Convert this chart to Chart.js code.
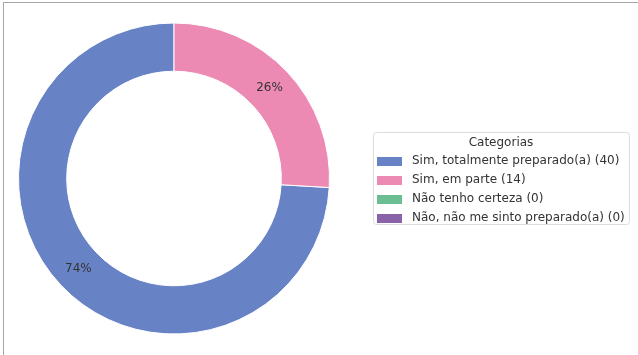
<!DOCTYPE html>
<html>
<head>
<meta charset="utf-8">
<script src="https://cdn.jsdelivr.net/npm/chart.js@4"></script>
<style>
  html, body { margin: 0; padding: 0; background: #fff; }
  #wrap { position: relative; width: 638px; height: 355px; }
  #frame { position: absolute; left: 3px; top: 2px; right: 0; bottom: 0;
           border-top: 1px solid #a8a8a8; border-left: 1px solid #a8a8a8; }
  canvas { position: absolute; left: 0; top: 0; }
</style>
</head>
<body>
<div id="wrap">
  <div id="frame"></div>
  <canvas id="myChart" width="638" height="355"></canvas>
</div>
<script>
// Respostas por categoria
const categories = ['Sim, totalmente preparado(a)', 'Sim, em parte', 'Não tenho certeza', 'Não, não me sinto preparado(a)'];
const counts = [40, 14, 0, 0];
const colors = ['#6882c6', '#ec8ab4', '#6abe91', '#8962aa'];
const legendTitle = 'Categorias';

const total = counts.reduce((a, b) => a + b, 0);
// first slice ends just past 3 o'clock, the rest fill the top-right
const startDeg = (total - counts[0]) / total * 360;

const FONT = '"DejaVu Sans", sans-serif';

// percentage text in the middle of each ring slice
const pctLabels = {
    id: 'pctLabels',
    afterDatasetsDraw(chart) {
        const c = chart.ctx;
        const meta = chart.getDatasetMeta(0);
        c.save();
        c.font = '12px ' + FONT;
        c.fillStyle = '#333';
        c.textAlign = 'center';
        c.textBaseline = 'middle';
        meta.data.forEach((arc, i) => {
            if (!counts[i]) return;
            const p = arc.tooltipPosition();
            c.fillText(Math.round(counts[i] / total * 100) + '%', p.x, p.y);
        });
        c.restore();
    }
};

// boxed legend on the right
const boxLegend = {
    id: 'boxLegend',
    afterDraw(chart) {
        const c = chart.ctx;
        const x = 373, y = 132, w = 256, h = 92;
        c.save();
        c.fillStyle = '#fff';
        c.strokeStyle = '#dcdcdc';
        c.lineWidth = 1;
        c.beginPath();
        c.roundRect(x + 0.5, y + 0.5, w, h, 3);
        c.fill();
        c.stroke();

        c.font = '12px ' + FONT;
        c.fillStyle = '#333';
        c.textBaseline = 'middle';
        c.textAlign = 'center';
        c.fillText(legendTitle, x + w / 2, y + 11);

        c.textAlign = 'left';
        categories.forEach((name, i) => {
            const cy = y + 29 + i * 19;
            c.fillStyle = colors[i];
            c.fillRect(x + 4, cy - 4, 25, 9);
            c.fillStyle = '#333';
            c.fillText(name + ' (' + counts[i] + ')', x + 39, cy);
        });
        c.restore();
    }
};

const ctx = document.getElementById('myChart').getContext('2d');
const myChart = new Chart(ctx, {
    type: 'doughnut',
    data: {
        labels: categories,
        datasets: [{
            data: counts,
            backgroundColor: colors,
            borderColor: '#fff',
            borderWidth: 1
        }]
    },
    options: {
        responsive: false,
        animation: false,
        rotation: startDeg,
        cutout: '69%',
        layout: { padding: { left: 18, right: 308, top: 19, bottom: 17 } },
        plugins: {
            legend: { display: false },
            tooltip: { enabled: false }
        }
    },
    plugins: [pctLabels, boxLegend]
});
</script>
</body>
</html>
